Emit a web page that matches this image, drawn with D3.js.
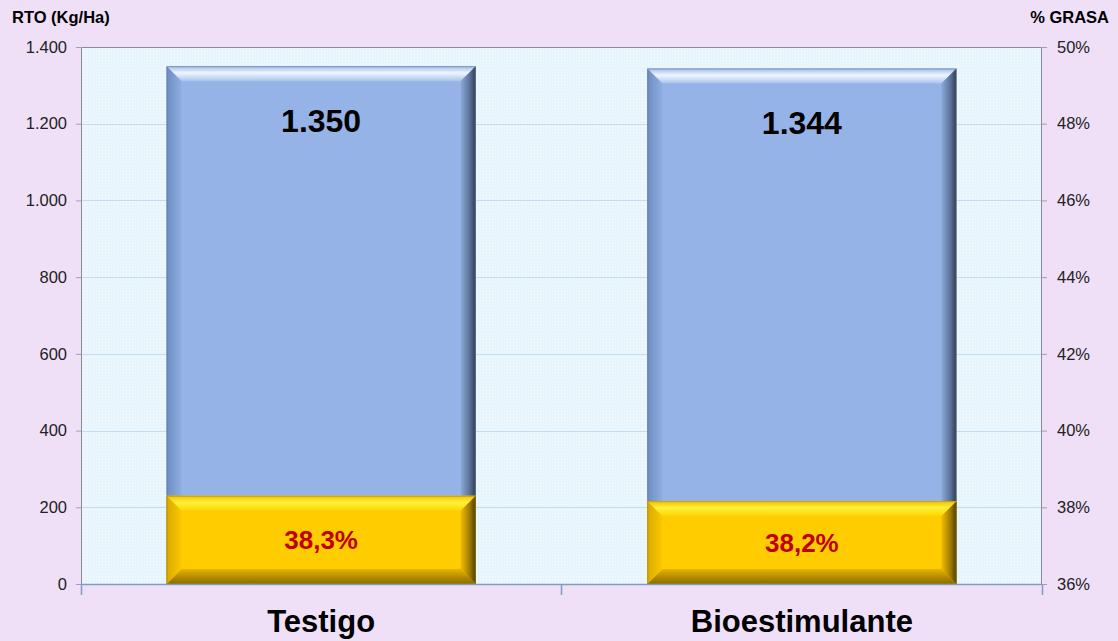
<html>
<head>
<meta charset="utf-8">
<style>
  body { margin: 0; background: #efe0f8; }
  text { font-family: "Liberation Sans", Arial, sans-serif; }
</style>
</head>
<body>
<script src="https://d3js.org/d3.v7.min.js"></script>
<script>
  // data
  var categories = ['Testigo', 'Bioestimulante'];
  var rto = [1350, 1344];          // Kg/Ha, eje izquierdo
  var grasa = [38.3, 38.16];       // %, eje derecho
  var rtoTicks = [0, 200, 400, 600, 800, 1000, 1200, 1400];
  var grasaTicks = [36, 38, 40, 42, 44, 46, 48, 50];

  var W = 1118, H = 641,
      pL = 81, pR = 1042, pT = 47, pB = 584,
      bevel = 15;

  var svg = d3.select('body').append('svg')
    .attr('width', W).attr('height', H);

  svg.append('rect').attr('width', W).attr('height', H).attr('fill', '#efe0f8');

  // patron punteado del area de trazado
  var defs = svg.append('defs');
  var pat = defs.append('pattern').attr('id', 'dots')
    .attr('width', 3).attr('height', 3).attr('patternUnits', 'userSpaceOnUse');
  pat.append('rect').attr('width', 3).attr('height', 3).attr('fill', '#e6f4fc');
  pat.append('rect').attr('width', 1).attr('height', 1).attr('fill', '#f7fcff');
  pat.append('rect').attr('x', 1.5).attr('y', 1.5).attr('width', 1).attr('height', 1).attr('fill', '#f3faff');

  // escalas
  var x = d3.scaleBand().domain(categories).range([pL, pR]).paddingInner(0.357).paddingOuter(0.178);
  var y = d3.scaleLinear().domain([0, 1400]).range([pB, pT]);
  var y2 = d3.scaleLinear().domain([36, 50]).range([pB, pT]);

  svg.append('rect')
    .attr('x', pL).attr('y', pT)
    .attr('width', pR - pL).attr('height', pB - pT)
    .attr('fill', 'url(#dots)');

  // grilla
  svg.append('g').selectAll('line')
    .data(rtoTicks.slice(1, -1))
    .enter().append('line')
    .attr('x1', pL).attr('x2', pR)
    .attr('y1', d => Math.round(y(d)) + 0.5).attr('y2', d => Math.round(y(d)) + 0.5)
    .attr('stroke', '#c4dcf0').attr('stroke-width', 1);

  // borde del area de trazado
  svg.append('path')
    .attr('d', `M${pL + 0.5},${pB}V${pT + 0.5}H${pR - 0.5}V${pB}`)
    .attr('fill', 'none').attr('stroke', '#8c8c98').attr('stroke-width', 1);

  // gradientes para el bisel
  function grad(id, x1, y1, x2, y2, stops) {
    var g = defs.append('linearGradient').attr('id', id)
      .attr('x1', x1).attr('y1', y1).attr('x2', x2).attr('y2', y2);
    stops.forEach(s => g.append('stop').attr('offset', s[0]).attr('stop-color', s[1]));
  }
  grad('bTop', 0, 0, 0, 1, [[0, '#9fbbe8'], [0.45, '#eef6ff'], [1, '#a8c2ec']]);
  grad('bLeft', 0, 0, 1, 0, [[0, '#6e8cc0'], [1, '#8eaee2']]);
  grad('bRight', 0, 0, 1, 0, [[0, '#8da9d8'], [0.6, '#5c729a'], [1, '#2e3a50']]);
  grad('bBot', 0, 0, 0, 1, [[0, '#8aa6d6'], [1, '#6a83b0']]);
  grad('yTop', 0, 0, 0, 1, [[0, '#f2c000'], [0.45, '#fff23a'], [1, '#ffd400']]);
  grad('yLeft', 0, 0, 1, 0, [[0, '#d9a800'], [1, '#fcc800']]);
  grad('yRight', 0, 0, 1, 0, [[0, '#f0bd00'], [0.6, '#a07c00'], [1, '#4a3a00']]);
  grad('yBot', 0, 0, 0, 1, [[0, '#e6b400'], [1, '#8a6a00']]);

  function bevelBar(g, x0, y0, w, h, face, pre) {
    var x1 = x0 + w, y1 = y0 + h, b = Math.min(bevel, h / 2);
    g.append('rect').attr('x', x0).attr('y', y0).attr('width', w).attr('height', h).attr('fill', face);
    g.append('path').attr('fill', `url(#${pre}Top)`)
      .attr('d', `M${x0},${y0}L${x1},${y0}L${x1 - b},${y0 + b}L${x0 + b},${y0 + b}Z`);
    g.append('path').attr('fill', `url(#${pre}Bot)`)
      .attr('d', `M${x0},${y1}L${x1},${y1}L${x1 - b},${y1 - b}L${x0 + b},${y1 - b}Z`);
    g.append('path').attr('fill', `url(#${pre}Left)`)
      .attr('d', `M${x0},${y0}L${x0 + b},${y0 + b}L${x0 + b},${y1 - b}L${x0},${y1}Z`);
    g.append('path').attr('fill', `url(#${pre}Right)`)
      .attr('d', `M${x1},${y0}L${x1 - b},${y0 + b}L${x1 - b},${y1 - b}L${x1},${y1}Z`);
    g.append('rect').attr('x', x0 + 0.5).attr('y', y0 + 0.5).attr('width', w - 1).attr('height', h - 1)
      .attr('fill', 'none').attr('stroke', pre === 'b' ? '#5a7099' : '#a08000').attr('stroke-opacity', 0.5);
  }

  var bars = svg.append('g');
  categories.forEach(function (c, i) {
    bevelBar(bars, x(c), y(rto[i]), x.bandwidth(), pB - y(rto[i]), '#95b3e6', 'b');
  });
  categories.forEach(function (c, i) {
    bevelBar(bars, x(c), y2(grasa[i]), x.bandwidth(), pB - y2(grasa[i]), '#ffcc00', 'y');
  });

  // etiquetas de valor
  var fmtKg = d3.formatLocale({ decimal: ',', thousands: '.', grouping: [3], currency: ['', ''] }).format(',d');
  var fmtPct = v => d3.format('.1f')(v).replace('.', ',') + '%';

  svg.append('g').selectAll('text')
    .data(categories).enter().append('text')
    .attr('x', d => x(d) + x.bandwidth() / 2)
    .attr('y', (d, i) => y(rto[i]) + 66)
    .attr('text-anchor', 'middle')
    .attr('font-size', 32).attr('font-weight', 'bold').attr('fill', '#000')
    .text((d, i) => fmtKg(rto[i]));

  svg.append('g').selectAll('text')
    .data(categories).enter().append('text')
    .attr('x', d => x(d) + x.bandwidth() / 2)
    .attr('y', (d, i) => (y2(grasa[i]) + pB) / 2 + 9)
    .attr('text-anchor', 'middle')
    .attr('font-size', 26).attr('font-weight', 'bold').attr('fill', '#c00000')
    .text((d, i) => fmtPct(grasa[i]));

  // eje izquierdo
  var axL = svg.append('g').attr('transform', `translate(${pL},0)`)
    .call(d3.axisLeft(y).tickValues(rtoTicks).tickSize(5).tickPadding(9).tickFormat(fmtKg));
  axL.select('.domain').remove();
  axL.selectAll('line').attr('stroke', '#a0a0a8');
  axL.selectAll('text').attr('font-size', 16.5).attr('fill', '#222').style('font-family', '"Liberation Sans", Arial, sans-serif');

  // eje derecho
  var axR = svg.append('g').attr('transform', `translate(${pR},0)`)
    .call(d3.axisRight(y2).tickValues(grasaTicks).tickSize(5).tickPadding(10).tickFormat(d => d + '%'));
  axR.select('.domain').remove();
  axR.selectAll('line').attr('stroke', '#a0a0a8');
  axR.selectAll('text').attr('font-size', 16.5).attr('fill', '#222').style('font-family', '"Liberation Sans", Arial, sans-serif');

  // eje de categorias
  svg.append('line').attr('x1', pL).attr('x2', pR)
    .attr('y1', pB + 0.5).attr('y2', pB + 0.5)
    .attr('stroke', '#7f9cc4').attr('stroke-width', 1.5);
  var sep = [pL, x(categories[1]) - x.step() * x.paddingInner() / 2, pR];
  svg.append('g').selectAll('line').data(sep).enter().append('line')
    .attr('x1', d => Math.round(d) + 0.5).attr('x2', d => Math.round(d) + 0.5)
    .attr('y1', pB).attr('y2', pB + 11)
    .attr('stroke', '#7f9cc4').attr('stroke-width', 1.5);

  svg.append('g').selectAll('text')
    .data(categories).enter().append('text')
    .attr('x', d => x(d) + x.bandwidth() / 2)
    .attr('y', 632)
    .attr('text-anchor', 'middle')
    .attr('font-size', 31).attr('font-weight', 'bold').attr('fill', '#000')
    .text(d => d);

  // titulos de ejes
  svg.append('text').attr('x', 12).attr('y', 23)
    .attr('font-size', 16.5).attr('font-weight', 'bold').text('RTO (Kg/Ha)');
  svg.append('text').attr('x', 1109).attr('y', 23).attr('text-anchor', 'end')
    .attr('font-size', 16.5).attr('font-weight', 'bold').text('% GRASA');
</script>
</body>
</html>
